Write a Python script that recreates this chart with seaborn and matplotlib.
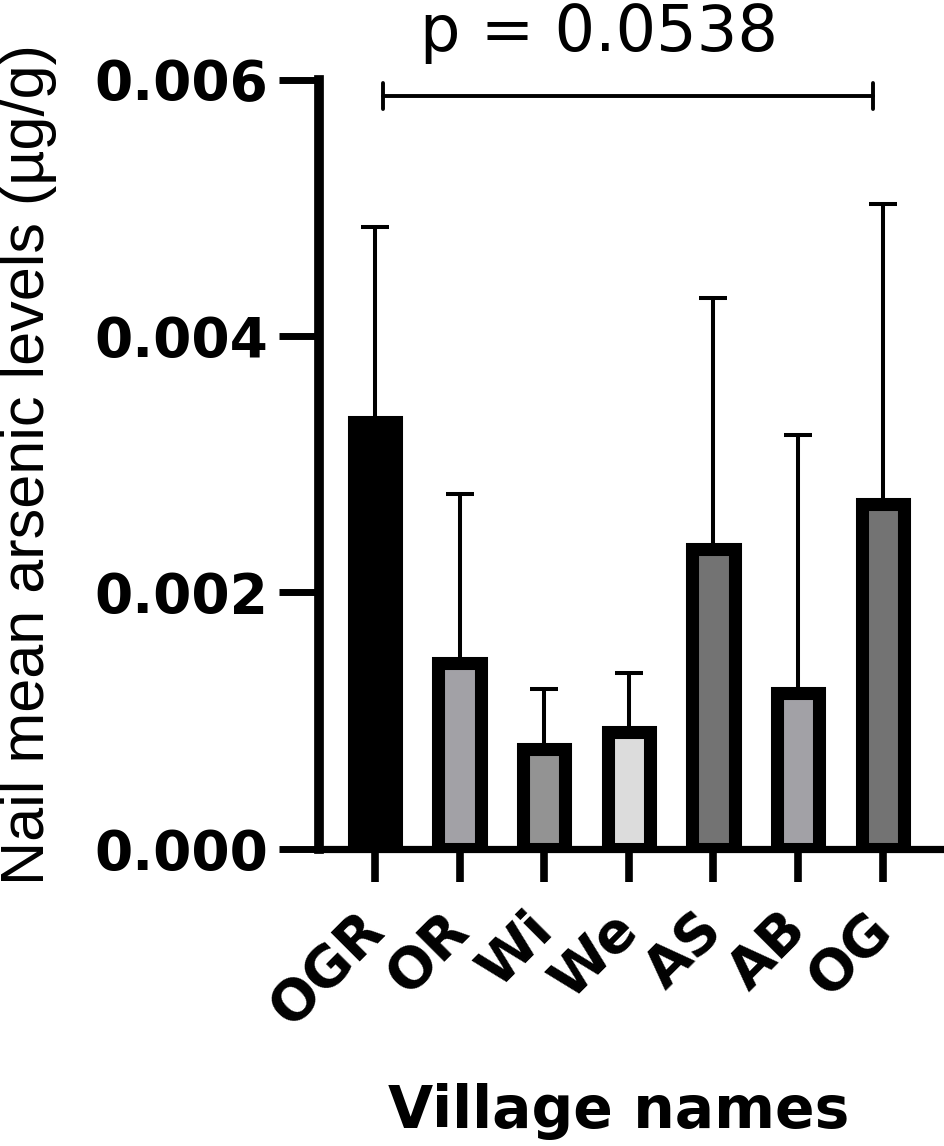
import matplotlib
matplotlib.use("Agg")
import matplotlib.pyplot as plt
from matplotlib import font_manager
from matplotlib.ticker import FormatStrFormatter
import numpy as np
import pandas as pd
import seaborn as sns

# values
villages = ["OGR", "OR", "Wi", "We", "AS", "AB", "OG"]
mean_as = [0.00333, 0.00145, 0.00078, 0.00091, 0.00234, 0.00122, 0.00269]
sd_as = [0.00152, 0.00132, 0.00047, 0.00046, 0.00196, 0.00201, 0.00234]
bar_colors = ["#000000", "#a2a1a6", "#939393", "#dcdcdc", "#737373", "#a2a1a6", "#737373"]
y_ticks = [0.000, 0.002, 0.004, 0.006]
p_label = "p = 0.0538"
bracket_from, bracket_to, bracket_y = 0.1, 5.88, 0.00587

sns.set_style("ticks", rc={"text.color": "black", "axes.edgecolor": "black",
                           "axes.labelcolor": "black", "xtick.color": "black",
                           "ytick.color": "black"})
installed = {f.name for f in font_manager.fontManager.ttflist}
main_font = "Liberation Sans" if "Liberation Sans" in installed else "DejaVu Sans"
plt.rcParams["font.family"] = [main_font, "DejaVu Sans"]
wide_font = ["DejaVu Sans"]

df = pd.DataFrame({"village": villages, "mean": mean_as, "sd": sd_as})

fig = plt.figure(figsize=(9.45, 11.46), dpi=100)
ax = fig.add_axes([0.338, 0.2592, 0.6598, 0.6714])

sns.barplot(data=df, x="village", y="mean", hue="village", palette=bar_colors,
            legend=False, errorbar=None, width=0.5, saturation=1,
            edgecolor="black", linewidth=9.4, ax=ax, zorder=3)

xpos = np.arange(len(villages))
ax.errorbar(xpos, df["mean"], yerr=[np.zeros(len(villages)), df["sd"]],
            fmt="none", ecolor="black", elinewidth=2.9, capsize=10,
            capthick=2.9, zorder=2)

# significance bracket
ax.plot([bracket_from, bracket_to], [bracket_y, bracket_y], color="black", lw=2.8, clip_on=False)
for bx in (bracket_from, bracket_to):
    ax.plot([bx, bx], [bracket_y - 0.0001, bracket_y + 0.0001], color="black", lw=2.8, clip_on=False)
ax.text(2.645, 0.00622, p_label, ha="center", va="baseline", fontsize=46,
        family=wide_font, clip_on=False)

ax.set_xlim(-0.655, 6.71)
ax.set_ylim(0, 0.006)
ax.set_yticks(y_ticks)
ax.yaxis.set_major_formatter(FormatStrFormatter("%.3f"))
for lbl in ax.get_yticklabels():
    lbl.set_fontweight("bold")
    lbl.set_fontsize(39.5)
    lbl.set_family(wide_font)
ax.tick_params(axis="y", length=28.8, width=5, pad=8)

ax.set_xticks(xpos)
ax.set_xticklabels(villages, rotation=45, ha="right", va="center",
                   rotation_mode="anchor", fontweight="bold", fontsize=40,
                   family=wide_font)
ax.tick_params(axis="x", length=24, width=5.5, pad=28)

sns.despine(ax=ax)
ax.spines["left"].set_linewidth(7)
ax.spines["bottom"].set_linewidth(5.2)

ax.set_ylabel("Nail mean arsenic levels (µg/g)", fontsize=44)
ax.yaxis.label.set_verticalalignment("center")
ax.yaxis.set_label_coords((29 - 319.5) / 623.5, 0.5)

ax.set_xlabel("Village names", fontsize=42, fontweight="bold", family=wide_font)
ax.xaxis.label.set_verticalalignment("baseline")
ax.xaxis.set_label_coords((619 - 319.5) / 623.5, (849 - 1128) / 769.5)

fig.savefig("out.png", dpi=100)
